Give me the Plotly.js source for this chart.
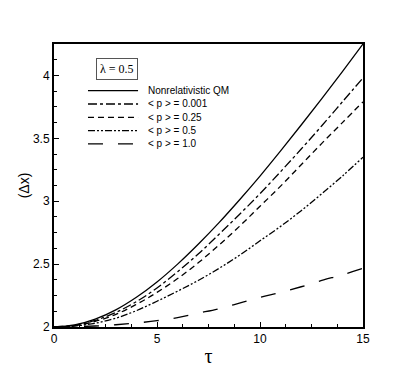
<!DOCTYPE html>
<html>
<head>
<meta charset="utf-8">
<script src="https://cdn.plot.ly/plotly-3.0.1.min.js"></script>
<style>
  body { margin: 0; background: #fff; }
  #chart { width: 415px; height: 369px; }
</style>
</head>
<body>
<div id="chart"></div>
<script>
// tau values (at integer steps)
var tau = [0, 1, 2, 3, 4, 5, 6, 7, 8, 9, 10, 11, 12, 13, 14, 15];

var nonrelQM = [2.000, 2.016, 2.062, 2.136, 2.236, 2.358, 2.500, 2.658, 2.828, 3.010, 3.200, 3.400, 3.606, 3.816, 4.031, 4.250];
var p0001    = [2.000, 2.013, 2.052, 2.116, 2.202, 2.310, 2.440, 2.580, 2.735, 2.895, 3.060, 3.235, 3.415, 3.600, 3.790, 3.980];
var p025     = [2.000, 2.011, 2.045, 2.100, 2.180, 2.275, 2.385, 2.510, 2.650, 2.800, 2.960, 3.120, 3.290, 3.460, 3.625, 3.790];
var p05      = [2.000, 2.008, 2.030, 2.070, 2.130, 2.205, 2.285, 2.370, 2.465, 2.570, 2.685, 2.800, 2.925, 3.060, 3.200, 3.350];
var p10      = [2.000, 2.002, 2.008, 2.018, 2.032, 2.050, 2.075, 2.110, 2.145, 2.190, 2.235, 2.275, 2.320, 2.370, 2.415, 2.466];

var names = ['Nonrelativistic QM', '< p > = 0.001', '< p > = 0.25', '< p > = 0.5', '< p > = 1.0'];
var dashes = ['solid', 'dashdot', '6px,4px', '7px,2px,2px,2px,2px,2px', 'longdash'];
var series = [nonrelQM, p0001, p025, p05, p10];

var data = series.map(function (y, i) {
  return {
    x: tau,
    y: y,
    mode: 'lines',
    name: names[i],
    showlegend: false,
    line: { color: '#000', width: 1.3, dash: dashes[i], shape: 'spline' }
  };
});

// hand-drawn legend (Plotly's own legend rows are too tall here)
var shapes = [];
var annotations = [];
var legTop = 0.835, legStep = 0.047;
names.forEach(function (n, i) {
  var yy = legTop - i * legStep;
  shapes.push({
    type: 'line', xref: 'paper', yref: 'paper',
    x0: 0.11, x1: 0.272, y0: yy, y1: yy,
    line: { color: '#000', width: 1.3, dash: dashes[i] }
  });
  annotations.push({
    text: n, xref: 'paper', yref: 'paper',
    x: 0.297, y: yy, xanchor: 'left', yanchor: 'middle',
    showarrow: false, font: { size: 10 }
  });
});
annotations.push({
  text: 'λ = 0.5',
  xref: 'paper', yref: 'paper',
  x: 0.137, y: 0.95, xanchor: 'left', yanchor: 'top',
  showarrow: false,
  font: { family: 'Liberation Serif, Times New Roman, serif', size: 12 },
  bordercolor: '#555', borderwidth: 1, borderpad: 3
});

var layout = {
  width: 415,
  height: 369,
  margin: { l: 54, r: 52, t: 44, b: 42 },
  paper_bgcolor: '#fff',
  plot_bgcolor: '#fff',
  font: { family: 'Liberation Sans, Arial, sans-serif', color: '#000', size: 12 },
  showlegend: false,
  xaxis: {
    range: [0, 15],
    tickvals: [0, 5, 10, 15],
    ticks: 'inside', ticklen: 5, tickwidth: 1, tickcolor: '#000',
    minor: { dtick: 1.25, ticks: 'inside', ticklen: 3, tickcolor: '#000' },
    showgrid: false, zeroline: false,
    showline: true, linewidth: 2, linecolor: '#000', mirror: true,
    title: { text: 'τ', font: { family: 'Liberation Serif, Times New Roman, serif', size: 20 }, standoff: 4 }
  },
  yaxis: {
    range: [2, 4.25],
    tickvals: [2, 2.5, 3, 3.5, 4],
    ticktext: ['2', '2.5', '3', '3.5', '4'],
    ticks: 'inside', ticklen: 5, tickwidth: 1, tickcolor: '#000',
    minor: { dtick: 0.125, ticks: 'inside', ticklen: 3, tickcolor: '#000' },
    showgrid: false, zeroline: false,
    showline: true, linewidth: 2, linecolor: '#000', mirror: true,
    title: { text: '(Δx)', font: { size: 14 }, standoff: 0 }
  },
  shapes: shapes,
  annotations: annotations
};

Plotly.newPlot('chart', data, layout, { displayModeBar: false });
</script>
</body>
</html>
